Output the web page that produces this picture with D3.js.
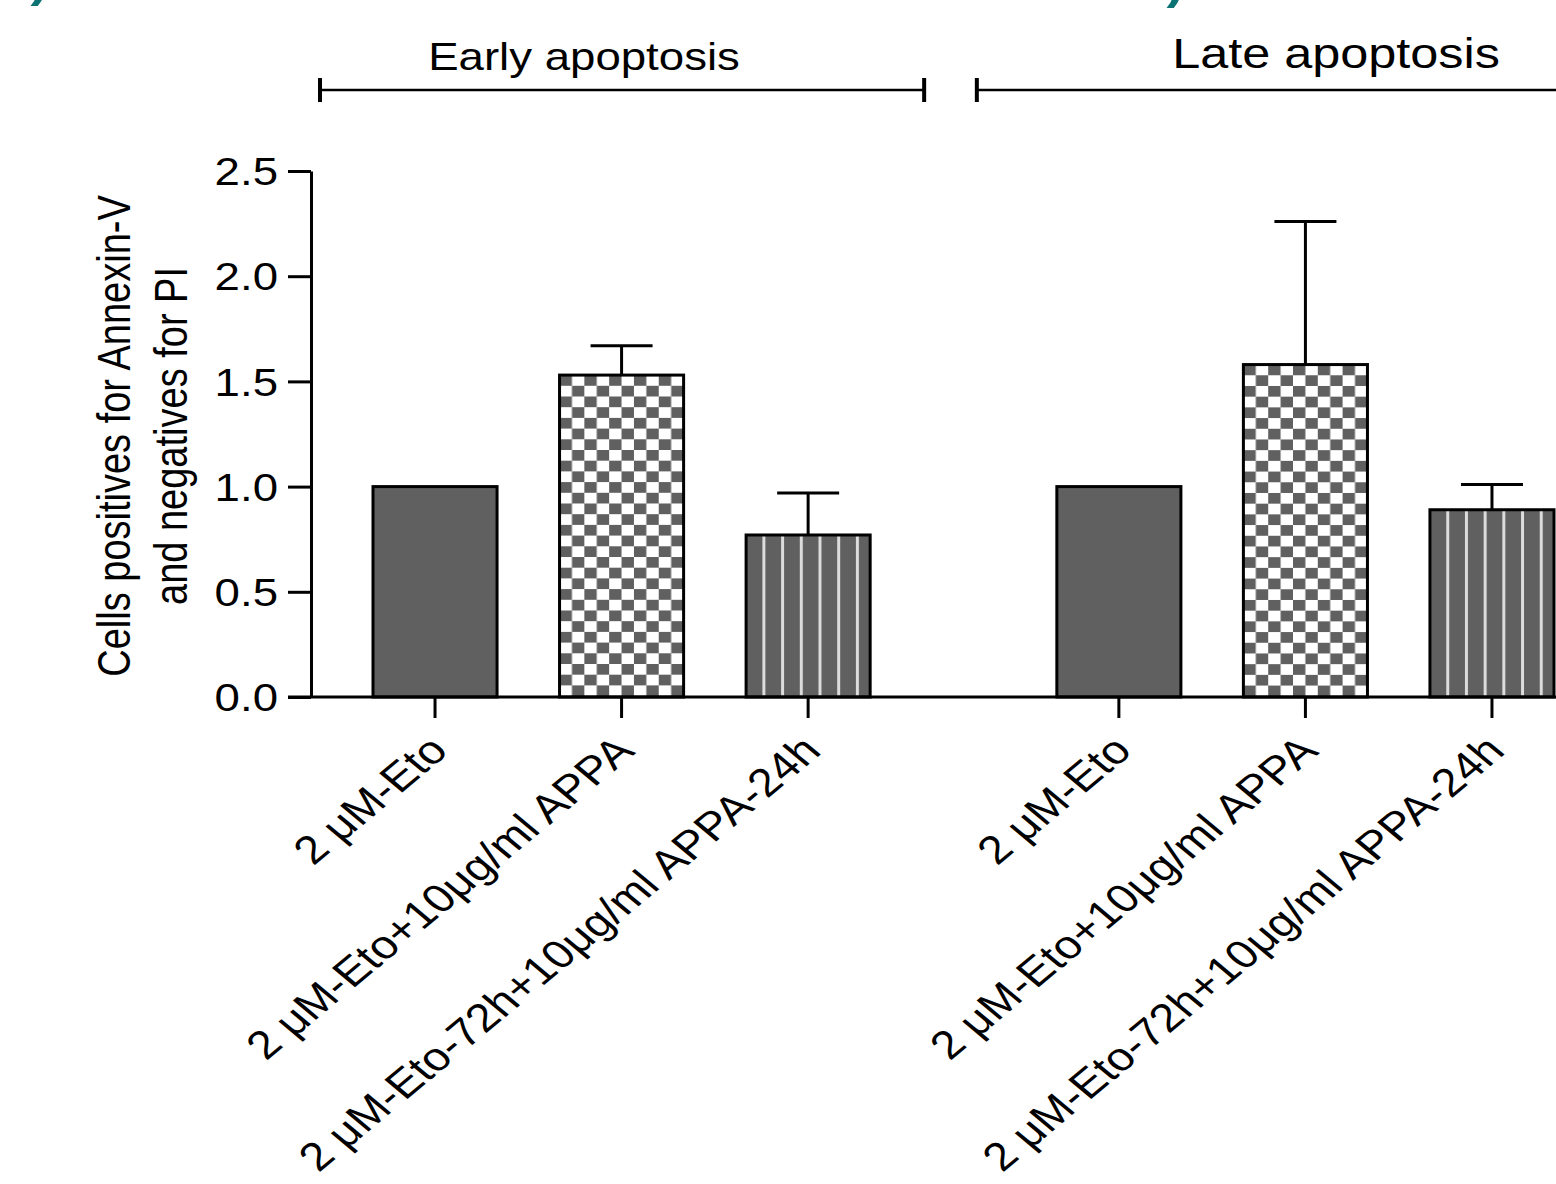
<!DOCTYPE html>
<html>
<head>
<meta charset="utf-8">
<script src="https://cdn.jsdelivr.net/npm/d3@7"></script>
<style>
  body { margin: 0; background: #fff; }
  svg text { font-family: "Liberation Sans", Arial, sans-serif; fill: #000; }
</style>
</head>
<body>
<div id="chart"></div>
<script>
var groups = ["Early apoptosis", "Late apoptosis"];
var treatments = ["2 μM-Eto", "2 μM-Eto+10μg/ml APPA", "2 μM-Eto-72h+10μg/ml APPA-24h"];
var means = [[1.0, 1.53, 0.77], [1.0, 1.58, 0.89]];
var errors = [[0, 0.14, 0.20], [0, 0.68, 0.12]];
var yTicks = [0, 0.5, 1.0, 1.5, 2.0, 2.5];
var yLabel = ["Cells positives for Annexin-V", "and negatives for PI"];
var panelLetters = ["A)", "B)"];

var W = 1556, H = 1184;
var sx = 1.2; // picture is stretched horizontally

var svg = d3.select("#chart").append("svg")
    .attr("width", W)
    .attr("height", H);

var defs = svg.append("defs");

// checkerboard
var chk = defs.append("pattern")
    .attr("id", "checker")
    .attr("patternUnits", "userSpaceOnUse")
    .attr("width", 24.8).attr("height", 21.4);
chk.append("rect").attr("width", 24.8).attr("height", 21.4).attr("fill", "#fff");
chk.append("rect").attr("width", 12.4).attr("height", 10.7).attr("fill", "#606060");
chk.append("rect").attr("x", 12.4).attr("y", 10.7).attr("width", 12.4).attr("height", 10.7).attr("fill", "#606060");

// vertical stripes
var str = defs.append("pattern")
    .attr("id", "stripes")
    .attr("patternUnits", "userSpaceOnUse")
    .attr("x", -2.4)
    .attr("width", 18.7).attr("height", 20);
str.append("rect").attr("width", 18.7).attr("height", 20).attr("fill", "#606060");
str.append("rect").attr("x", 0).attr("width", 3).attr("height", 20).attr("fill", "#dcdcdc");

var fills = ["#606060", "url(#checker)", "url(#stripes)"];

var x0 = d3.scaleBand()
    .domain(groups)
    .range([373, 1554])
    .paddingInner(0.273)
    .paddingOuter(0);

var x1 = d3.scaleBand()
    .domain(treatments)
    .range([0, x0.bandwidth()])
    .paddingInner(0.335)
    .paddingOuter(0);

var y = d3.scaleLinear()
    .domain([0, 2.5])
    .range([697, 171]);

var axisX = 311;

// teal panel letters cut off at top
svg.selectAll(".panel")
  .data(panelLetters)
  .enter().append("text")
    .attr("transform", function(d, i) {
      return "translate(" + (i == 0 ? 48 : 1184) + "," + (i == 0 ? -3 : -1) + ") scale(" + sx + ",1)";
    })
    .attr("text-anchor", "end")
    .attr("font-size", 44)
    .attr("font-weight", "bold")
    .style("fill", "#0b7373")
    .text(function(d) { return d; });

// bars
var data = [];
groups.forEach(function(g, gi) {
  treatments.forEach(function(t, ti) {
    data.push({group: g, t: t, ti: ti, mean: means[gi][ti], err: errors[gi][ti]});
  });
});

var bar = svg.append("g").selectAll("g")
    .data(data)
    .enter().append("g")
      .attr("transform", function(d) {
        return "translate(" + (x0(d.group) + x1(d.t)) + "," + y(d.mean) + ")";
      });

// error bars (drawn under the bar outline)
bar.filter(function(d) { return d.err > 0; }).each(function(d) {
  var g = d3.select(this), c = x1.bandwidth() / 2;
  var top = y(d.mean + d.err) - y(d.mean);
  g.append("line")
    .attr("x1", c).attr("x2", c).attr("y1", 0).attr("y2", top)
    .attr("stroke", "#000").attr("stroke-width", 3);
  g.append("line")
    .attr("x1", c - 31).attr("x2", c + 31).attr("y1", top).attr("y2", top)
    .attr("stroke", "#000").attr("stroke-width", 3);
});

bar.append("rect")
    .attr("x", 0)
    .attr("y", 0)
    .attr("width", x1.bandwidth())
    .attr("height", function(d) { return y(0) - y(d.mean); })
    .attr("fill", function(d) { return fills[d.ti]; })
    .attr("stroke", "#000")
    .attr("stroke-width", 3);

// y axis
var yAxis = svg.append("g")
    .attr("transform", "translate(" + axisX + ",0)")
    .call(d3.axisLeft(y).tickValues(yTicks).tickFormat(d3.format(".1f")).tickSize(23).tickSizeOuter(0));
yAxis.select(".domain").attr("stroke-width", 3);
yAxis.selectAll(".tick line").attr("stroke-width", 3);
yAxis.selectAll(".tick text")
    .attr("x", null)
    .attr("dy", "0.36em")
    .attr("transform", "translate(-33,0) scale(" + sx + ",1)")
    .attr("font-size", 38)
    .attr("font-family", null)
    .style("fill", "#000");

// x axis line
svg.append("line")
    .attr("x1", axisX - 23).attr("x2", W)
    .attr("y1", y(0)).attr("y2", y(0))
    .attr("stroke", "#000").attr("stroke-width", 3);

svg.append("g").selectAll("line")
    .data(data)
    .enter().append("line")
      .attr("x1", function(d) { return x0(d.group) + x1(d.t) + x1.bandwidth() / 2; })
      .attr("x2", function(d) { return x0(d.group) + x1(d.t) + x1.bandwidth() / 2; })
      .attr("y1", y(0)).attr("y2", y(0) + 21)
      .attr("stroke", "#000").attr("stroke-width", 3);

svg.append("g").selectAll("text")
    .data(data)
    .enter().append("text")
      .attr("transform", function(d) {
        var cx = x0(d.group) + x1(d.t) + x1.bandwidth() / 2;
        return "translate(" + (cx + 3) + "," + (y(0) + 46) + ") scale(" + sx + ",1) rotate(-45)";
      })
      .attr("text-anchor", "end")
      .attr("dy", "0.35em")
      .attr("font-size", 39.5)
      .text(function(d) { return d.t; });

// y label
svg.append("g").selectAll("text")
    .data(yLabel)
    .enter().append("text")
      .attr("transform", function(d, i) {
        return "translate(" + (130 + i * 57) + ",436) scale(" + sx + ",1) rotate(-90)";
      })
      .attr("text-anchor", "middle")
      .attr("font-size", 38)
      .text(function(d) { return d; });

// group brackets
var brackets = groups.map(function(g, gi) {
  var left = x0(g) - (gi == 0 ? 53 : 80);
  var right = gi == 0 ? x0(g) + x0.bandwidth() + 54 : W + 20;
  return {g: g, left: left, right: right, gi: gi};
});

var br = svg.append("g").selectAll("g")
    .data(brackets)
    .enter().append("g");

br.append("line")
    .attr("x1", function(d) { return d.left; })
    .attr("x2", function(d) { return d.right; })
    .attr("y1", 90).attr("y2", 90)
    .attr("stroke", "#000").attr("stroke-width", 2.5);
br.append("line")
    .attr("x1", function(d) { return d.left; })
    .attr("x2", function(d) { return d.left; })
    .attr("y1", 78).attr("y2", 102)
    .attr("stroke", "#000").attr("stroke-width", 4);
br.filter(function(d) { return d.gi == 0; }).append("line")
    .attr("x1", function(d) { return d.right; })
    .attr("x2", function(d) { return d.right; })
    .attr("y1", 78).attr("y2", 102)
    .attr("stroke", "#000").attr("stroke-width", 4);

br.append("text")
    .attr("transform", function(d) {
      var cx = d.gi == 0 ? 584 : 1336;
      return "translate(" + cx + "," + (d.gi == 0 ? 70 : 68) + ") scale(" + sx + ",1)";
    })
    .attr("text-anchor", "middle")
    .attr("font-size", function(d) { return d.gi == 0 ? 38 : 42; })
    .text(function(d) { return d.g; });
</script>
</body>
</html>
